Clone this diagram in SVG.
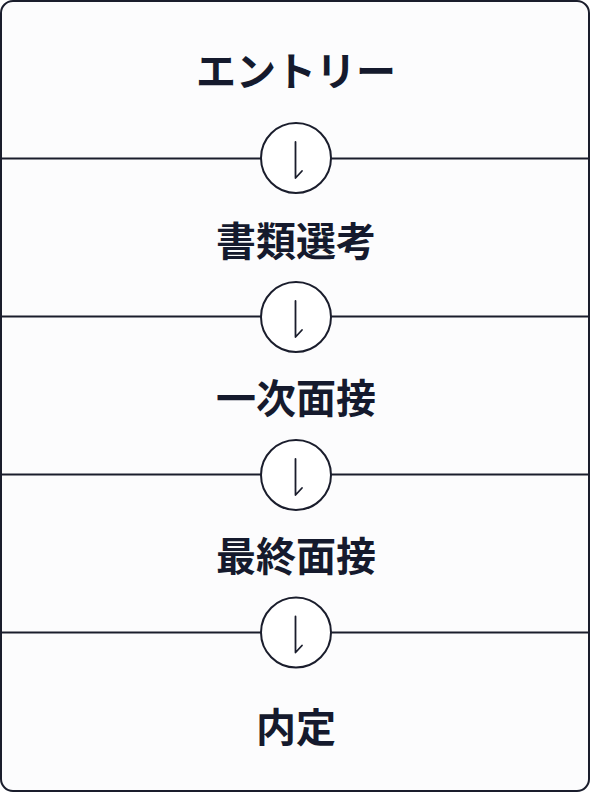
<svg xmlns="http://www.w3.org/2000/svg" width="590" height="792" viewBox="0 0 590 792">
  <defs>
    <style>
      .frame { fill: #fcfcfd; stroke: #1a1d2c; stroke-width: 2; }
      .divider { stroke: #1a1d2c; stroke-width: 2; fill: none; }
      .badge { fill: #ffffff; stroke: #1a1d2c; stroke-width: 2; }
      .arrow { fill: none; stroke: #1a1d2c; stroke-width: 1.8; stroke-linecap: round; stroke-linejoin: round; }
      .label { font-family: "Noto Sans CJK JP", "Noto Sans", sans-serif; font-size: 40px; font-weight: 700; fill: #151a2d; text-anchor: middle; }
    </style>
    <g id="step-arrow">
      <circle class="badge" cx="0" cy="0" r="35"/>
      <path class="arrow" d="M -0.5 -16 L -0.5 20 L 6 13"/>
    </g>
  </defs>
  <rect x="0" y="0" width="590" height="792" fill="#ffffff"/>
  <rect class="frame" x="1" y="1" width="588" height="790" rx="12" ry="12"/>

  <g id="connectors">
    <line class="divider" x1="1" y1="158.5" x2="589" y2="158.5"/>
    <line class="divider" x1="1" y1="316.5" x2="589" y2="316.5"/>
    <line class="divider" x1="1" y1="474.5" x2="589" y2="474.5"/>
    <line class="divider" x1="1" y1="632.5" x2="589" y2="632.5"/>
    <use href="#step-arrow" x="296" y="158"/>
    <use href="#step-arrow" x="296" y="317"/>
    <use href="#step-arrow" x="296" y="475"/>
    <use href="#step-arrow" x="296" y="632.5"/>
  </g>

  <g id="node-entry"><text class="label" x="296" y="86">エントリー</text></g>
  <g id="node-document"><text class="label" x="296" y="256">書類選考</text></g>
  <g id="node-first-interview"><text class="label" x="296" y="413">一次面接</text></g>
  <g id="node-final-interview"><text class="label" x="296" y="571">最終面接</text></g>
  <g id="node-offer"><text class="label" x="296" y="742">内定</text></g>
</svg>
